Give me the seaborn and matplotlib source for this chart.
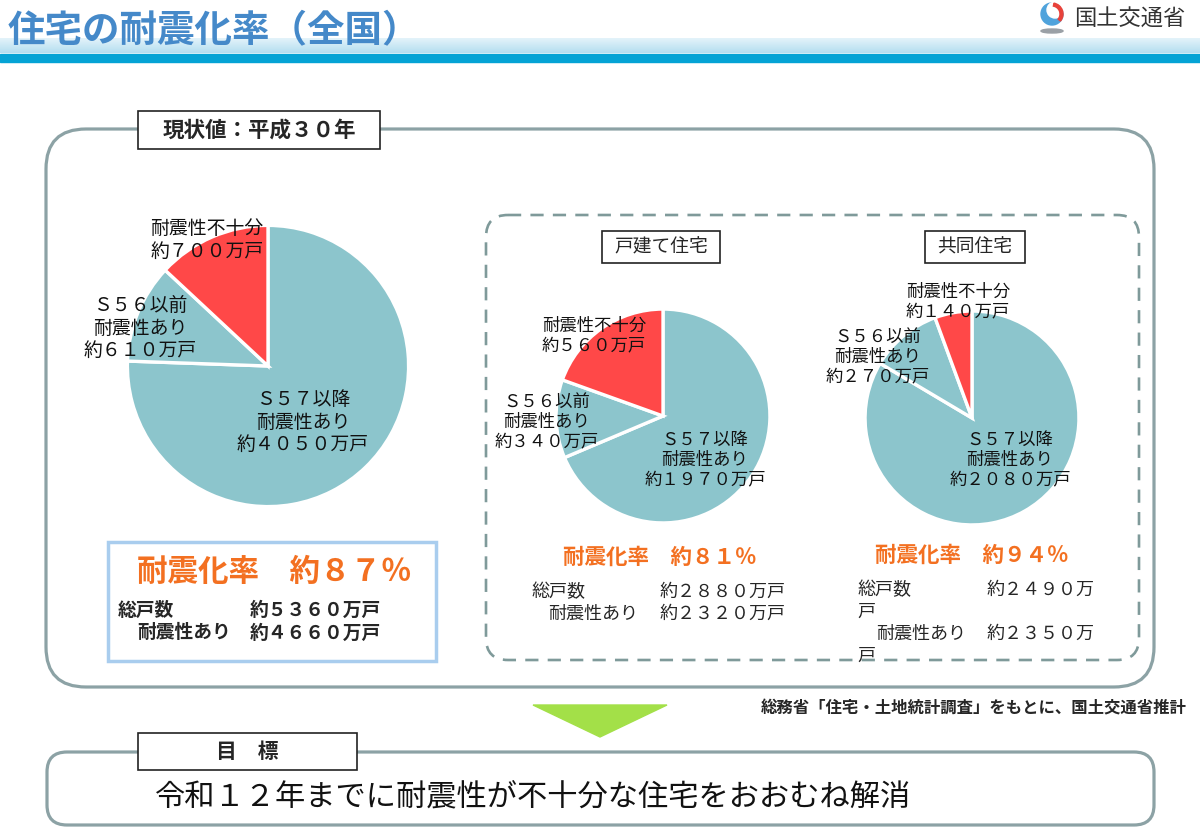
import numpy as np
import matplotlib
matplotlib.use("Agg")
import matplotlib.pyplot as plt
from matplotlib.patches import FancyBboxPatch, Rectangle, Polygon, Circle, Ellipse, Wedge
import seaborn as sns

# values in 万戸, slice order clockwise from 12 o'clock
segments = ["Ｓ５７以降\n耐震性あり", "Ｓ５６以前\n耐震性あり", "耐震性不十分"]
all_houses = [4050, 610, 700]
detached = [1970, 340, 560]
apartments = [2080, 270, 140]
rates = [87, 81, 94]
totals = [5360, 2880, 2490]
resistant = [4660, 2320, 2350]

sns.set_theme(style="white")
plt.rcParams['font.family'] = ['Noto Sans CJK JP', 'DejaVu Sans']

W, H = 1200, 840
TEAL = "#8CC5CC"
RED = "#FF4848"
ORANGE = "#F37021"
GRAY = "#8CA2A5"
slice_colors = sns.color_palette([TEAL, TEAL, RED])

FW = str.maketrans("0123456789", "０１２３４５６７８９")


def zen(n):
    return str(n).translate(FW)


fig = plt.figure(figsize=(12, 8.4), dpi=100)
bg = fig.add_axes([0, 0, 1, 1], zorder=0)
fg = fig.add_axes([0, 0, 1, 1], zorder=3)
for a in (bg, fg):
    a.set_xlim(0, W)
    a.set_ylim(H, 0)
    a.axis("off")
fg.patch.set_alpha(0)

# header
grad = np.linspace(0, 1, 50).reshape(-1, 1)
cmap = matplotlib.colors.LinearSegmentedColormap.from_list("band", ["#E4F3FA", "#B4DEF0"])
bg.imshow(grad, cmap=cmap, extent=(0, W, 53, 38), aspect="auto", zorder=1)
bg.add_patch(Rectangle((0, 54), W, 8, color="#04A3D5", zorder=1))
bg.text(8, 31, "住宅の耐震化率（全国）", fontsize=27, fontweight="bold",
        color="#4589C9", va="center", zorder=3)

# logo
bg.add_patch(Circle((1052, 14), 11, color="#4FA3DC", zorder=2))
bg.add_patch(Circle((1055, 10), 8, color="white", zorder=3))
bg.add_patch(Wedge((1052, 14), 11, 280, 40, width=3, color="#E8423A", zorder=4))
bg.add_patch(Ellipse((1052, 31), 22, 4, color="#9AA0A6", zorder=2))
bg.text(1074, 18, "国土交通省", fontsize=16, color="#333333", va="center")

# main frame
bg.add_patch(FancyBboxPatch((46, 129), 1108, 558,
                            boxstyle="round,pad=0,rounding_size=40",
                            fc="none", ec=GRAY, lw=2.3, zorder=1))
bg.add_patch(FancyBboxPatch((486, 215), 653, 445,
                            boxstyle="round,pad=0,rounding_size=22",
                            fc="none", ec="#7F9A9A", lw=1.9,
                            ls=(0, (5, 3.5)), zorder=1))
bg.add_patch(FancyBboxPatch((47, 752), 1107, 73,
                            boxstyle="round,pad=0,rounding_size=20",
                            fc="none", ec=GRAY, lw=2.3, zorder=1))


def label_box(x0, y0, x1, y1, text, size, weight="normal"):
    bg.add_patch(Rectangle((x0, y0), x1 - x0, y1 - y0, fc="white",
                           ec="#222222", lw=1.2, zorder=4))
    bg.text((x0 + x1) / 2, (y0 + y1) / 2, text, fontsize=size,
            fontweight=weight, ha="center", va="center", zorder=5)


label_box(138, 111, 380, 149, "現状値：平成３０年", 15.5, "bold")
label_box(602, 231, 720, 263, "戸建て住宅", 13.5)
label_box(925, 231, 1025, 263, "共同住宅", 13.5)
label_box(138, 733, 357, 770, "目　標", 15, "bold")


# pies
def draw_pie(values, cx, cy, r):
    ax = fig.add_axes([(cx - r) / W, 1 - (cy + r) / H, 2 * r / W, 2 * r / H], zorder=2)
    ax.pie(values, colors=slice_colors, startangle=90, counterclock=False,
           wedgeprops=dict(edgecolor="white", linewidth=2.4))
    ax.set_xlim(-1.01, 1.01)
    ax.set_ylim(-1.01, 1.01)
    ax.set_aspect("equal")
    ax.axis("off")
    ax.patch.set_alpha(0)


draw_pie(all_houses, 268, 366, 142)
draw_pie(detached, 663, 416, 108)
draw_pie(apartments, 972, 418, 108)

label_pos = [
    [(303, 422), (140, 328), (207, 240)],
    [(705, 460), (547, 422), (594, 336)],
    [(1010, 460), (878, 357), (958, 302)],
]
label_size = [13.6, 12.5, 12.5]
for vals, pos, fs in zip([all_houses, detached, apartments], label_pos, label_size):
    for seg, v, (x, y) in zip(segments, vals, pos):
        fg.text(x, y, f"{seg}\n約{zen(v)}万戸", fontsize=fs, ha="center",
                va="center", linespacing=1.12, color="#111111")

# summary boxes
bg.add_patch(Rectangle((108, 542), 328, 119, fc="none", ec="#A9CDEE", lw=2.5))
fg.text(137, 572, f"耐震化率　約{zen(rates[0])}％", fontsize=22,
        fontweight="bold", color=ORANGE, va="center")
fg.text(118, 610, "総戸数", fontsize=13.5, fontweight="bold", va="center")
fg.text(250, 610, f"約{zen(totals[0])}万戸", fontsize=13.5, fontweight="bold", va="center")
fg.text(137, 633, "耐震性あり", fontsize=13.5, fontweight="bold", va="center")
fg.text(250, 633, f"約{zen(resistant[0])}万戸", fontsize=13.5, fontweight="bold", va="center")

fg.text(563, 557, f"耐震化率　約{zen(rates[1])}％", fontsize=15.5,
        fontweight="bold", color=ORANGE, va="center")
fg.text(531, 592, "総戸数", fontsize=13, va="center")
fg.text(660, 592, f"約{zen(totals[1])}万戸", fontsize=13, va="center")
fg.text(548, 614, "耐震性あり", fontsize=13, va="center")
fg.text(660, 614, f"約{zen(resistant[1])}万戸", fontsize=13, va="center")

fg.text(875, 555, f"耐震化率　約{zen(rates[2])}％", fontsize=15.5,
        fontweight="bold", color=ORANGE, va="center")
fg.text(857, 590, "総戸数", fontsize=13, va="center")
fg.text(987, 590, f"約{zen(totals[2])}万", fontsize=13, va="center")
fg.text(857, 612, "戸", fontsize=13, va="center")
fg.text(876, 634, "耐震性あり", fontsize=13, va="center")
fg.text(987, 634, f"約{zen(resistant[2])}万", fontsize=13, va="center")
fg.text(857, 656, "戸", fontsize=13, va="center")

# source, arrow, target
fg.text(1187, 708, "総務省「住宅・土地統計調査」をもとに、国土交通省推計",
        fontsize=11.8, fontweight="bold", ha="right", va="center")
bg.add_patch(Polygon([(533, 705), (667, 705), (600, 737)], closed=True,
                     color="#A3E048", zorder=2))
fg.text(155, 797, "令和１２年までに耐震性が不十分な住宅をおおむね解消",
        fontsize=21.8, va="center", color="#111111")

fig.savefig("out.png", dpi=100)
